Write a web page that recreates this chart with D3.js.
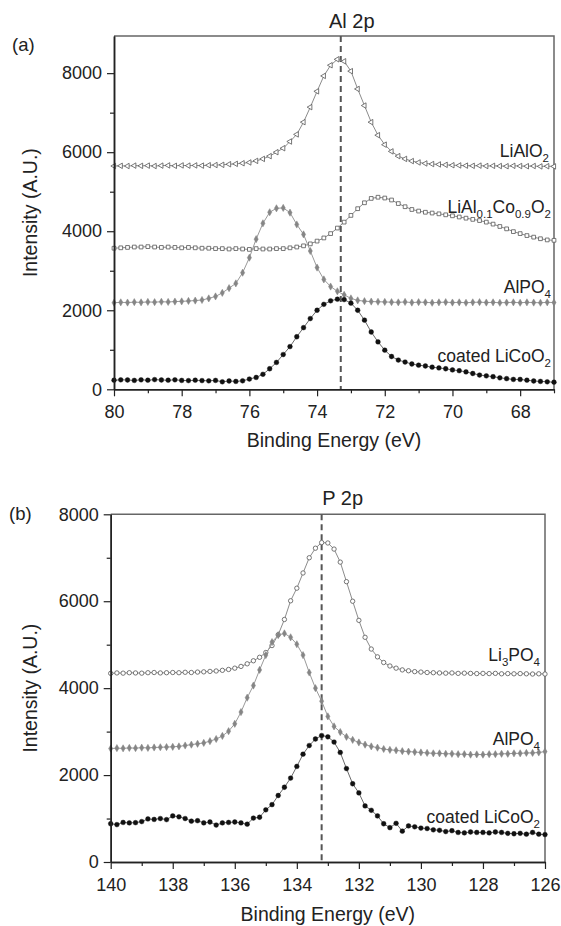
<!DOCTYPE html>
<html>
<head>
<meta charset="utf-8">
<script src="https://cdn.jsdelivr.net/npm/d3@7"></script>
<style>
  body { margin: 0; background: #fff; }
  svg text { font-family: "Liberation Sans", Arial, Helvetica, sans-serif; fill: #222; }
</style>
</head>
<body>
<svg id="chart" width="561" height="926"></svg>
<script>
// ---------- Al 2p spectra ----------
const energyAl = [80.0,79.8,79.6,79.4,79.2,79.0,78.8,78.6,78.4,78.2,78.0,77.8,77.6,77.4,77.2,77.0,76.8,76.6,76.4,76.2,
  76.0,75.8,75.6,75.4,75.2,75.0,74.8,74.6,74.4,74.2,74.0,73.8,73.6,73.4,73.2,73.0,72.8,72.6,72.4,72.2,
  72.0,71.8,71.6,71.4,71.2,71.0,70.8,70.6,70.4,70.2,70.0,69.8,69.6,69.4,69.2,69.0,68.8,68.6,68.4,68.2,
  68.0,67.8,67.6,67.4,67.2,67.0];

const alLiAlO2 = [5650,5655,5650,5660,5655,5660,5650,5660,5665,5655,5665,5660,5665,5660,5670,5675,5680,5695,5705,5720,
  5740,5780,5830,5900,6000,6100,6270,6450,6760,7140,7540,7930,8200,8350,8300,8050,7600,7180,6760,6430,
  6190,6020,5900,5830,5775,5740,5715,5700,5690,5680,5670,5665,5660,5655,5660,5650,5655,5650,5645,5655,
  5650,5645,5650,5640,5645,5640];

const alLiAlCoO2 = [3570,3580,3590,3600,3600,3610,3600,3590,3600,3590,3580,3590,3580,3570,3570,3560,3560,3550,3560,3550,
  3540,3560,3550,3550,3560,3560,3580,3600,3630,3680,3750,3830,3940,4080,4230,4400,4570,4720,4830,4860,
  4840,4790,4700,4620,4550,4510,4480,4460,4440,4415,4390,4360,4330,4300,4270,4230,4180,4120,4060,3990,
  3940,3890,3850,3810,3780,3770];

const alAlPO4 = [2190,2200,2195,2205,2200,2210,2205,2215,2210,2220,2225,2235,2245,2260,2300,2350,2440,2560,2680,2950,
  3330,3800,4200,4480,4580,4590,4470,4170,3920,3500,3080,2780,2600,2480,2390,2300,2250,2230,2220,2215,
  2210,2205,2200,2210,2195,2205,2200,2190,2200,2205,2195,2200,2190,2200,2205,2195,2200,2190,2195,2200,
  2190,2200,2195,2190,2200,2195];

const alCoated = [230,240,235,225,240,230,245,235,230,240,225,220,230,220,215,225,190,210,200,215,
  260,300,380,520,680,880,1080,1330,1560,1790,2000,2150,2240,2280,2270,2180,2000,1750,1450,1200,
  990,830,740,690,640,610,590,560,540,520,490,470,440,400,360,340,320,290,270,250,
  250,230,210,200,190,180];

const alTicksMajor = [80,78,76,74,72,70,68];
const alTicksMinor = [79,77,75,73,71,69,67];
const alRefLine = 73.3;

// ---------- P 2p spectra ----------
const energyP = [140.0,139.8,139.6,139.4,139.2,139.0,138.8,138.6,138.4,138.2,138.0,137.8,137.6,137.4,137.2,137.0,
  136.8,136.6,136.4,136.2,136.0,135.8,135.6,135.4,135.2,135.0,134.8,134.6,134.4,134.2,134.0,133.8,133.6,
  133.4,133.2,133.0,132.8,132.6,132.4,132.2,132.0,131.8,131.6,131.4,131.2,131.0,130.8,130.6,130.4,130.2,
  130.0,129.8,129.6,129.4,129.2,129.0,128.8,128.6,128.4,128.2,128.0,127.8,127.6,127.4,127.2,127.0,126.8,
  126.6,126.4,126.2,126.0];

const pLi3PO4 = [4340,4350,4345,4355,4350,4345,4355,4360,4350,4355,4360,4355,4365,4360,4370,4375,
  4385,4395,4410,4430,4460,4500,4560,4630,4710,4820,4980,5230,5580,6010,6300,6650,7000,
  7220,7350,7340,7200,6900,6450,6000,5560,5170,4900,4720,4590,4510,4460,4420,4400,4380,
  4370,4360,4355,4350,4345,4350,4340,4345,4340,4335,4340,4335,4340,4330,4335,4330,4335,
  4330,4325,4330,4325];

const pAlPO4 = [2610,2620,2615,2625,2620,2630,2625,2635,2640,2645,2650,2660,2680,2700,2720,2740,
  2780,2830,2900,3010,3180,3450,3780,4060,4420,4760,5060,5220,5260,5170,5010,4760,4360,
  4000,3700,3350,3120,2990,2880,2810,2750,2700,2660,2630,2600,2580,2570,2550,2540,2530,
  2520,2510,2500,2500,2490,2490,2480,2480,2470,2475,2470,2480,2480,2490,2490,2500,2500,
  2510,2510,2520,2540];

const pCoated = [880,860,910,900,905,930,990,980,1000,975,1060,1040,1000,940,950,900,
  920,850,900,910,920,900,870,1010,1030,1200,1320,1530,1720,1930,2200,2480,2680,
  2830,2910,2880,2760,2520,2150,1800,1590,1290,1190,1060,880,790,890,710,830,810,
  780,770,740,730,700,720,680,670,690,680,680,670,690,680,660,650,660,
  640,680,640,630];

const pTicksMajor = [140,138,136,134,132,130,128,126];
const pTicksMinor = [139,137,135,133,131,129,127];
const pRefLine = 133.2;

const yTicksMajor = [0,2000,4000,6000,8000];
const yTicksMinor = [1000,3000,5000,7000];

// ---------- drawing ----------
const svg = d3.select("#chart");
const FONT_TICK = 18;

const styles = {
  open:   { line: "#8c8c8c", fill: "#fff",    stroke: "#555", sw: 0.8 },
  gray:   { line: "#9a9a9a", fill: "#858585", stroke: "#858585", sw: 0.5 },
  black:  { line: "#6a6a6a", fill: "#111",    stroke: "#111", sw: 0.4 }
};

function panel(cfg) {
  const x = d3.scaleLinear().domain(cfg.xDomain).range([cfg.left, cfg.right]);
  const y = d3.scaleLinear().domain(cfg.yDomain).range([cfg.bottom, cfg.top]);
  const g = svg.append("g");

  // frame: top and right edges
  g.append("path")
    .attr("d", `M${x(cfg.xDomain[0])},${y(cfg.yDomain[1])}H${x(cfg.xDomain[1])}V${y(cfg.yDomain[0])}`)
    .attr("fill", "none").attr("stroke", "#666").attr("stroke-width", 1.5);

  // reference dashed line
  g.append("line")
    .attr("x1", x(cfg.refLine)).attr("x2", x(cfg.refLine))
    .attr("y1", y(cfg.yDomain[1])).attr("y2", y(cfg.yDomain[0]))
    .attr("stroke", "#555").attr("stroke-width", 2).attr("stroke-dasharray", "6,4");

  // series
  cfg.series.forEach(s => {
    const st = styles[s.style];
    const pts = cfg.energy.map((e, i) => [e, s.values[i]]);
    g.append("path")
      .datum(pts)
      .attr("fill", "none").attr("stroke", st.line).attr("stroke-width", 1)
      .attr("d", d3.line().x(d => x(d[0])).y(d => y(d[1])));
    const sym = d3.symbol().type(s.symbol).size(s.size);
    g.append("g").selectAll("path").data(pts).join("path")
      .attr("transform", d => `translate(${x(d[0])},${y(d[1])}) rotate(${s.rotate || 0})`)
      .attr("d", sym)
      .attr("fill", st.fill).attr("stroke", st.stroke).attr("stroke-width", st.sw);
  });

  // axes
  g.append("g").attr("transform", `translate(0,${y(cfg.yDomain[0])})`)
    .call(d3.axisBottom(x).tickValues(cfg.xMajor).tickFormat(d3.format("d")).tickSize(7).tickSizeOuter(0).tickPadding(9));
  g.append("g").attr("transform", `translate(0,${y(cfg.yDomain[0])})`)
    .call(d3.axisBottom(x).tickValues(cfg.xMinor).tickFormat("").tickSize(4).tickSizeOuter(0));
  g.append("g").attr("transform", `translate(${x(cfg.xDomain[0])},0)`)
    .call(d3.axisLeft(y).tickValues(yTicksMajor).tickFormat(d3.format("d")).tickSize(7).tickSizeOuter(0).tickPadding(5));
  g.append("g").attr("transform", `translate(${x(cfg.xDomain[0])},0)`)
    .call(d3.axisLeft(y).tickValues(yTicksMinor).tickFormat("").tickSize(4).tickSizeOuter(0));

  g.selectAll(".domain").attr("stroke", "#222").attr("stroke-width", 1.5);
  g.selectAll(".tick line").attr("stroke", "#222").attr("stroke-width", 1.2);
  g.selectAll(".tick text").attr("font-size", FONT_TICK).attr("fill", "#222")
    .attr("font-family", "'Liberation Sans', Arial, sans-serif");

  // axis titles
  g.append("text")
    .attr("x", (cfg.left + cfg.right) / 2).attr("y", cfg.xTitleY)
    .attr("text-anchor", "middle").attr("font-size", 19.5)
    .text("Binding Energy (eV)");
  g.append("text")
    .attr("transform", `translate(37,${(cfg.top + cfg.bottom) / 2}) rotate(-90)`)
    .attr("text-anchor", "middle").attr("font-size", 19.5)
    .text("Intensity (A.U.)");

  // panel title and letter
  g.append("text").attr("x", x(cfg.refLine) + cfg.titleDx).attr("y", cfg.titleY)
    .attr("text-anchor", "middle").attr("font-size", 20).text(cfg.title);
  g.append("text").attr("x", cfg.letterX).attr("y", cfg.letterY)
    .attr("font-size", 18.5).text(cfg.letter);

  // curve labels with subscripts
  cfg.labels.forEach(lb => {
    const t = g.append("text")
      .attr("x", x(cfg.xDomain[1]) - lb.dx).attr("y", lb.y)
      .attr("text-anchor", "end").attr("font-size", 17.5);
    let shifted = false;
    lb.parts.forEach(([str, sub]) => {
      const ts = t.append("tspan").text(str);
      if (sub && !shifted) { ts.attr("dy", 5).attr("font-size", 11.5); shifted = true; }
      else if (sub) { ts.attr("font-size", 11.5); }
      else if (!sub && shifted) { ts.attr("dy", -5); shifted = false; }
    });
  });
}

panel({
  energy: energyAl,
  xDomain: [80, 67], yDomain: [0, 8940],
  left: 114, right: 554, top: 36, bottom: 389.3,
  xMajor: alTicksMajor, xMinor: alTicksMinor, refLine: alRefLine,
  xTitleY: 447, title: "Al 2p", titleDx: 11, titleY: 28,
  letter: "(a)", letterX: 12, letterY: 51,
  series: [
    { values: alLiAlO2,   style: "open",  symbol: d3.symbolTriangle, size: 13, rotate: -90 },
    { values: alLiAlCoO2, style: "open",  symbol: d3.symbolSquare,   size: 14 },
    { values: alAlPO4,    style: "gray",  symbol: d3.symbolDiamond,  size: 15 },
    { values: alCoated,   style: "black", symbol: d3.symbolCircle,   size: 18 }
  ],
  labels: [
    { y: 157, dx: 5, parts: [["LiAlO", false], ["2", true]] },
    { y: 213, dx: 3, parts: [["LiAl", false], ["0.1", true], ["Co", false], ["0.9", true], ["O", false], ["2", true]] },
    { y: 293, dx: 3, parts: [["AlPO", false], ["4", true]] },
    { y: 362, dx: 3, parts: [["coated LiCoO", false], ["2", true]] }
  ]
});

panel({
  energy: energyP,
  xDomain: [140, 126], yDomain: [0, 8000],
  left: 110.7, right: 545, top: 514.3, bottom: 862,
  xMajor: pTicksMajor, xMinor: pTicksMinor, refLine: pRefLine,
  xTitleY: 921, title: "P 2p", titleDx: 21, titleY: 505,
  letter: "(b)", letterX: 9, letterY: 520,
  series: [
    { values: pLi3PO4, style: "open",  symbol: d3.symbolCircle,  size: 15 },
    { values: pAlPO4,  style: "gray",  symbol: d3.symbolDiamond, size: 15 },
    { values: pCoated, style: "black", symbol: d3.symbolCircle,  size: 18 }
  ],
  labels: [
    { y: 661, dx: 5, parts: [["Li", false], ["3", true], ["PO", false], ["4", true]] },
    { y: 745, dx: 5, parts: [["AlPO", false], ["4", true]] },
    { y: 823, dx: 5, parts: [["coated LiCoO", false], ["2", true]] }
  ]
});
</script>
</body>
</html>
